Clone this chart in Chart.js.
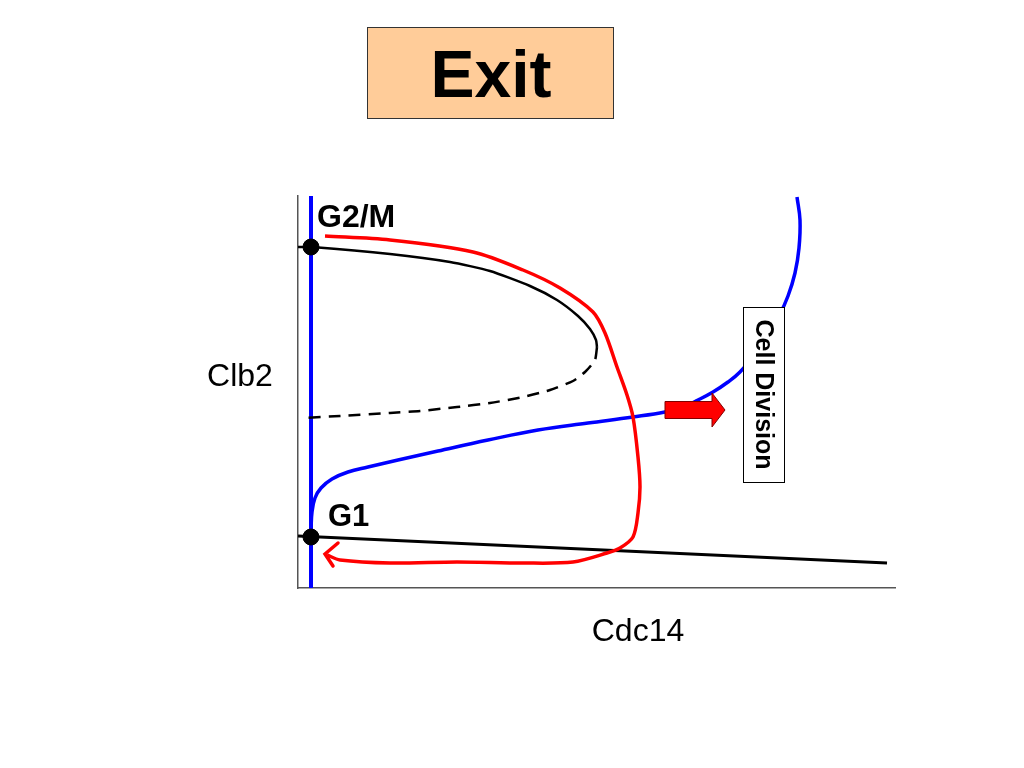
<!DOCTYPE html>
<html>
<head>
<meta charset="utf-8">
<script src="https://cdn.jsdelivr.net/npm/chart.js@4/dist/chart.umd.min.js"></script>
<style>
html,body{margin:0;padding:0;background:#fff;}
#wrap{width:1024px;height:768px;position:relative;}
</style>
</head>
<body>
<div id="wrap"><canvas id="c" width="1024" height="768"></canvas></div>
<script>
// Data space: x = Cdc14 (0..597), y = Clb2 (0..392)
const xRange = [0, 597];
const yRange = [0, 392];

const g2mBranchX = [0, 14, 92, 152, 192, 232, 259, 280, 292, 298, 299];
const g2mBranchY = [341, 341, 334, 326, 317, 302, 288, 272, 259, 248, 241];

const unstableX = [299, 297, 287, 275, 252, 225, 192, 159, 122, 92, 42, 5];
const unstableY = [241, 228, 216, 207, 198, 191, 185, 181, 177, 175, 172, 170];

const g1BranchX = [0, 589];
const g1BranchY = [52, 25];

const blueVertX = [13, 13];
const blueVertY = [0, 392];

const blueCurveX = [13, 14, 17, 23, 34, 50, 70, 100, 140, 190, 240, 290, 335, 367, 385, 400, 415, 430, 442, 456, 470, 481, 490, 497, 501, 502, 499];
const blueCurveY = [58, 76, 90, 100, 109, 116, 121, 128, 137, 148, 158, 165, 171, 176, 181, 188, 196, 206, 216, 233, 254, 272, 292, 315, 340, 368, 391];

const trajX = [27, 92, 175, 225, 262, 295, 307, 319, 329, 335, 340, 342, 340, 335, 322, 309, 275, 225, 159, 92, 42, 29];
const trajY = [352, 348, 336, 318, 300, 276, 255, 221, 193, 171, 131, 101, 75, 51, 40, 35, 26, 25, 26, 25, 28, 33];

const arrowHeadX = [40, 27, 35];
const arrowHeadY = [45, 34, 22];

const steadyStateX = [13, 13];
const steadyStateY = [341, 51];

const titleText = "Exit";
const xLabel = "Cdc14";
const yLabel = "Clb2";
const g2mLabel = "G2/M";
const g1Label = "G1";
const divisionLabel = "Cell Division";

const pts = (xs, ys) => xs.map((x, i) => ({x: x, y: ys[i]}));
const FONT = "'Liberation Sans', Arial, Helvetica, sans-serif";

const overlay = {
  id: 'overlay',
  afterDatasetsDraw(chart) {
    const ctx = chart.ctx;
    const xs = chart.scales.x, ys = chart.scales.y;
    const X = v => xs.getPixelForValue(v), Y = v => ys.getPixelForValue(v);
    ctx.save();
    // Cell Division box (covers blue curve)
    const bx0 = X(445), bx1 = X(486), by0 = Y(281), by1 = Y(106);
    ctx.fillStyle = '#fff';
    ctx.fillRect(bx0, by0, bx1 - bx0, by1 - by0);
    ctx.strokeStyle = '#000';
    ctx.lineWidth = 1;
    ctx.strokeRect(bx0 + 0.5, by0 + 0.5, bx1 - bx0, by1 - by0);
    ctx.save();
    ctx.translate((bx0 + bx1) / 2, (by0 + by1) / 2);
    ctx.rotate(Math.PI / 2);
    ctx.fillStyle = '#000';
    ctx.font = 'bold 25px ' + FONT;
    ctx.textAlign = 'center';
    ctx.textBaseline = 'middle';
    ctx.fillText(divisionLabel, 0, 1);
    ctx.restore();
    // Fat red arrow
    const ax0 = X(367), ax1 = X(414), atip = X(427);
    const ay = Y(178);
    ctx.beginPath();
    ctx.moveTo(ax0, ay - 8.5);
    ctx.lineTo(ax1, ay - 8.5);
    ctx.lineTo(ax1, ay - 17);
    ctx.lineTo(atip, ay);
    ctx.lineTo(ax1, ay + 17);
    ctx.lineTo(ax1, ay + 8.5);
    ctx.lineTo(ax0, ay + 8.5);
    ctx.closePath();
    ctx.fillStyle = '#ff0000';
    ctx.fill();
    ctx.strokeStyle = '#800000';
    ctx.lineWidth = 1;
    ctx.stroke();
    // Labels
    ctx.fillStyle = '#000';
    ctx.font = 'bold 32px ' + FONT;
    ctx.textAlign = 'left';
    ctx.textBaseline = 'alphabetic';
    ctx.fillText(g2mLabel, 317, 227);
    ctx.font = 'bold 31px ' + FONT;
    ctx.fillText(g1Label, 328, 526);
    ctx.font = '32px ' + FONT;
    ctx.textAlign = 'center';
    ctx.fillText(yLabel, 240, 386);
    ctx.fillText(xLabel, 638, 641);
    // Title box
    ctx.fillStyle = '#FFCC99';
    ctx.fillRect(367, 27, 246, 91);
    ctx.strokeStyle = '#333';
    ctx.lineWidth = 1;
    ctx.strokeRect(367.5, 27.5, 246, 91);
    ctx.fillStyle = '#000';
    ctx.font = 'bold 66px ' + FONT;
    ctx.textAlign = 'center';
    ctx.fillText(titleText, 491, 97);
    ctx.restore();
  }
};

new Chart(document.getElementById('c'), {
  type: 'scatter',
  data: {
    datasets: [
      {data: pts(trajX, trajY), showLine: true, borderColor: '#ff0000', borderWidth: 3.5, pointRadius: 0, tension: 0.3, order: 1, fill: false},
      {data: pts(arrowHeadX, arrowHeadY), showLine: true, borderColor: '#ff0000', borderWidth: 3.5, pointRadius: 0, tension: 0, order: 1, borderCapStyle: 'round'},
      {data: pts(steadyStateX, steadyStateY), showLine: false, pointRadius: 8, pointBackgroundColor: '#000', pointBorderColor: '#000', order: 2},
      {data: pts(g2mBranchX, g2mBranchY), showLine: true, borderColor: '#000', borderWidth: 2.5, pointRadius: 0, tension: 0.2, order: 3},
      {data: pts(unstableX, unstableY), showLine: true, borderColor: '#000', borderWidth: 2.5, borderDash: [12, 8], pointRadius: 0, tension: 0.2, order: 3},
      {data: pts(g1BranchX, g1BranchY), showLine: true, borderColor: '#000', borderWidth: 3, pointRadius: 0, tension: 0, order: 3},
      {data: pts(blueVertX, blueVertY), showLine: true, borderColor: '#0000ff', borderWidth: 4, pointRadius: 0, tension: 0, order: 4},
      {data: pts(blueCurveX, blueCurveY), showLine: true, borderColor: '#0000ff', borderWidth: 3.5, pointRadius: 0, tension: 0.4, order: 4}
    ]
  },
  options: {
    responsive: false,
    animation: false,
    layout: {padding: {left: 298, right: 129, top: 196, bottom: 180}},
    plugins: {legend: {display: false}, tooltip: {enabled: false}},
    scales: {
      x: {type: 'linear', min: xRange[0], max: xRange[1], ticks: {display: false}, grid: {display: false, drawTicks: false}, border: {display: true, color: '#555', width: 1.5}},
      y: {type: 'linear', min: yRange[0], max: yRange[1], ticks: {display: false}, grid: {display: false, drawTicks: false}, border: {display: true, color: '#555', width: 1.5}}
    }
  },
  plugins: [overlay]
});
</script>
</body>
</html>
